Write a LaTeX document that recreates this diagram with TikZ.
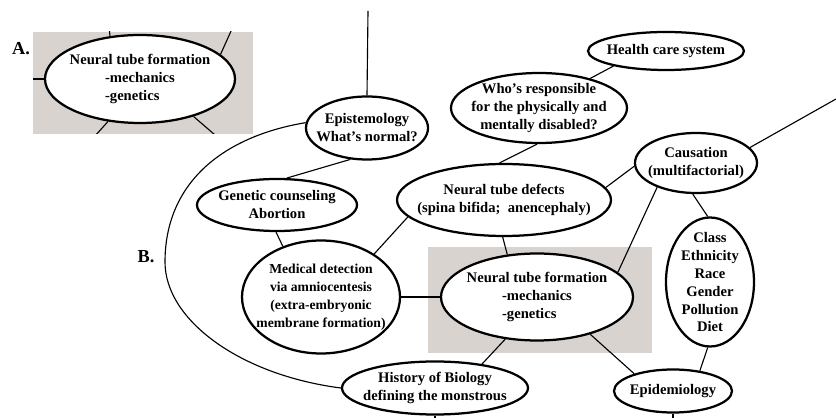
\documentclass[tikz,border=0pt]{standalone}
\usepackage{fontspec}
\setmainfont{Liberation Serif}
\usepackage{calc}
\usepackage{tikz}
\usetikzlibrary{shapes.geometric}
\definecolor{cutgray}{RGB}{217,211,208}
\tikzstyle{topic} = [ellipse,draw,line width=1.6pt,fill=white,inner sep=-2cm,align=center,font=\bfseries\fontsize{10.4}{12.8}\selectfont]
\tikzstyle{link} = [line width=0.8pt]
\tikzstyle{panel} = [font=\bfseries\fontsize{13}{15}\selectfont]
\newcommand{\ntfText}{Neural tube formation\\\makebox[\widthof{-mechanics}][l]{-mechanics}\\\makebox[\widthof{-mechanics}][l]{-genetics}}

\begin{document}
\begin{tikzpicture}[x=0.025cm,y=-0.025cm]
				\useasboundingbox (0,0) rectangle (836,418);
				
				%Panel A
				\node [panel] (labA) at (21,49) {A.};
				\begin{scope}
					\clip (33,32) rectangle (253,134);
					\fill [cutgray] (33,32) rectangle (253,134);
					\node [topic,minimum width=190*0.025cm,minimum height=88*0.025cm] (ntfA) at (140,79) {\ntfText};
					\coordinate (aTop) at (109,26);
					\coordinate (aNE) at (236,20);
					\coordinate (aW) at (25,79);
					\coordinate (aSW) at (86,146);
					\coordinate (aSE) at (236,153);
					\draw[link] (ntfA.125) -- (aTop);
					\draw[link] (ntfA.17) -- (aNE);
					\draw[link] (ntfA.west) -- (aW);
					\draw[link] (ntfA.233) -- (aSW);
					\draw[link] (ntfA.325) -- (aSE);
				\end{scope}
				
				%Panel B
				\node [panel] (labB) at (146,257) {B.};
				\fill [cutgray] (428,247) rectangle (652,353);
				
				%Nodes
				\node [topic,minimum width=122*0.025cm,minimum height=63*0.025cm] (epi) at (367,128) {Epistemology\\What's normal?};
				\node [topic,minimum width=176*0.025cm,minimum height=70*0.025cm] (who) at (539,108) {Who's responsible\\for the physically and\\mentally disabled?};
				\node [topic,minimum width=156*0.025cm,minimum height=38*0.025cm] (health) at (666,51) {Health care system};
				\node [topic,minimum width=122*0.025cm,minimum height=60*0.025cm] (cause) at (696,163) {Causation\\(multifactorial)};
				\node [topic,minimum width=214*0.025cm,minimum height=72*0.025cm] (ntd) at (504,200) {Neural tube defects\\(spina bifida;~ anencephaly)};
				\node [topic,minimum width=160*0.025cm,minimum height=52*0.025cm] (gen) at (277,205) {Genetic counseling\\Abortion};
				\node [topic,minimum width=158*0.025cm,minimum height=113*0.025cm,font=\bfseries\fontsize{9.7}{12.8}\selectfont] (med) at (321,297) {Medical detection\\via amniocentesis\\(extra-embryonic\\membrane formation)};
				\node [topic,minimum width=192*0.025cm,minimum height=87*0.025cm] (ntf) at (537,297) {\ntfText};
				\node [topic,minimum width=88*0.025cm,minimum height=129*0.025cm] (cls) at (710,282) {Class\\Ethnicity\\Race\\Gender\\Pollution\\Diet};
				\node [topic,minimum width=118*0.025cm,minimum height=43*0.025cm] (epid) at (673,391) {Epidemiology};
				\node [topic,minimum width=186*0.025cm,minimum height=53*0.025cm] (hist) at (435,388) {History of Biology\\defining the monstrous};
				
				%Coordinates
				\coordinate (topEnd) at (368,11);
				\coordinate (rightEnd) at (836,99);
				\coordinate (histDown) at (435,418);
				\coordinate (epidDown) at (673,418);
				\coordinate (bend) at (165,262);
				
				%Lines
				\draw[link] (epi.north) -- (topEnd);
				\draw[link] (health.196) -- (who.30);
				\draw[link] (who.267) -- (ntd.97);
				\draw[link] (epi.242) -- (gen.70);
				\draw[link] (gen.268) -- (med.127);
				\draw[link] (med.39) -- (ntd.190);
				\draw[link] (med.east) -- (ntf.west);
				\draw[link] (ntd.268) -- (ntf.125);
				\draw[link] (ntd.7) -- (cause.183);
				\draw[link] (cause.212) -- (ntf.17);
				\draw[link] (cause.264) -- (cls.92);
				\draw[link] (cause.16) -- (rightEnd);
				\draw[link] (cls.268) -- (epid.37);
				\draw[link] (ntf.325) -- (epid.156);
				\draw[link] (ntf.233) -- (hist.27);
				\draw[link] (hist.south) -- (histDown);
				\draw[link] (epid.south) -- (epidDown);
				\draw[link] (epi.175) .. controls (220,137) and (165,185) .. (bend) .. controls (165,320) and (240,375) .. (hist.west);
			\end{tikzpicture}
\end{document}
